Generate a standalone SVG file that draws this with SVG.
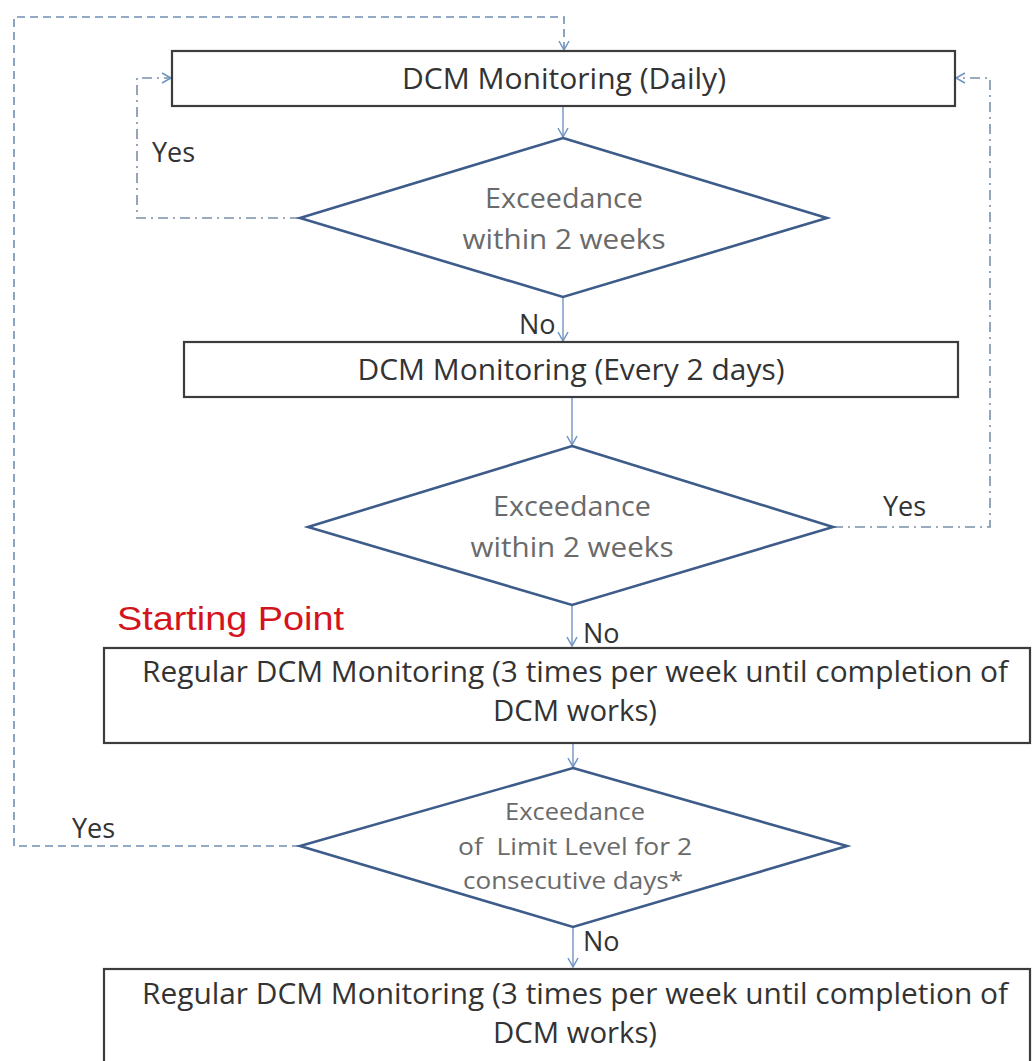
<svg xmlns="http://www.w3.org/2000/svg" width="1032" height="1061" viewBox="0 0 1032 1061">
<style>
.box{fill:#fff;stroke:#3c3c3c;stroke-width:2.2}
.dia{fill:#fff;stroke:#3d5c8a;stroke-width:2.6;stroke-linejoin:miter}
.bt{font-family:"Open Sans","Noto Sans",sans-serif;font-size:30px;fill:#333;text-anchor:middle}
.dt{font-family:"Open Sans","Noto Sans",sans-serif;font-size:28px;fill:#6a6a6a;text-anchor:middle}
.dt3{font-family:"Open Sans","Noto Sans",sans-serif;font-size:24px;fill:#6a6a6a;text-anchor:middle}
.lbl{font-family:"Open Sans","Noto Sans",sans-serif;font-size:27px;fill:#333}
.sp{font-family:"Liberation Sans",Arial,sans-serif;font-size:34px;fill:#d4141c}
.c{fill:none;stroke:#7a9cc6;stroke-width:1.5}
.dash{fill:none;stroke:#6e8fb3;stroke-width:1.6;stroke-dasharray:8 5}
.dd{fill:none;stroke:#7a90a8;stroke-width:1.6;stroke-dasharray:10 5 2 5}
</style>
<defs>
<marker id="ah" markerWidth="12" markerHeight="12" refX="10" refY="6" orient="auto" markerUnits="userSpaceOnUse">
<path d="M1,1 L10,6 L1,11" fill="none" stroke="#6f93c2" stroke-width="1.5"/>
</marker>
</defs>
<rect width="1032" height="1061" fill="#fff"/>
<g id="connectors">
<path class="c" d="M563,106 L563,137" marker-end="url(#ah)"/>
<path class="c" d="M563,297 L563,341" marker-end="url(#ah)"/>
<path class="c" d="M572,397 L572,445" marker-end="url(#ah)"/>
<path class="c" d="M572,605 L572,646" marker-end="url(#ah)"/>
<path class="c" d="M573,743 L573,767" marker-end="url(#ah)"/>
<path class="c" d="M573,927 L573,967" marker-end="url(#ah)"/>
<path class="dash" d="M300,846 L14,846 L14,17 L564,17 L564,50" marker-end="url(#ah)"/>
<path class="dd" d="M300,218 L137,218 L137,78 L171,78" marker-end="url(#ah)"/>
<path class="dd" d="M833,527 L990,527 L990,78 L956,78" marker-end="url(#ah)"/>
</g>
<g id="box1">
<rect class="box" x="172" y="51" width="783" height="55"/>
<text class="bt" x="564" y="89" textLength="324" lengthAdjust="spacingAndGlyphs">DCM Monitoring (Daily)</text>
</g>
<g id="dia1">
<polygon class="dia" points="563,138 827,218 563,297 300,218"/>
<text class="dt" x="564" y="208" textLength="158" lengthAdjust="spacingAndGlyphs">Exceedance</text>
<text class="dt" x="564" y="249" textLength="203" lengthAdjust="spacingAndGlyphs">within 2 weeks</text>
</g>
<g id="box2">
<rect class="box" x="184" y="342" width="774" height="55"/>
<text class="bt" x="571" y="380" textLength="427" lengthAdjust="spacingAndGlyphs">DCM Monitoring (Every 2 days)</text>
</g>
<g id="dia2">
<polygon class="dia" points="572,446 833,527 572,605 308,527"/>
<text class="dt" x="572" y="516" textLength="158" lengthAdjust="spacingAndGlyphs">Exceedance</text>
<text class="dt" x="572" y="557" textLength="203" lengthAdjust="spacingAndGlyphs">within 2 weeks</text>
</g>
<g id="start">
<text class="sp" x="117" y="630" textLength="227" lengthAdjust="spacingAndGlyphs">Starting Point</text>
</g>
<g id="box3">
<rect class="box" x="104" y="648" width="926" height="95"/>
<text class="bt" x="575" y="682" textLength="866" lengthAdjust="spacingAndGlyphs">Regular DCM Monitoring (3 times per week until completion of</text>
<text class="bt" x="575" y="721" textLength="164" lengthAdjust="spacingAndGlyphs">DCM works)</text>
</g>
<g id="dia3">
<polygon class="dia" points="573,768 847,846 573,927 300,846"/>
<text class="dt3" x="575" y="820" textLength="140" lengthAdjust="spacingAndGlyphs">Exceedance</text>
<text class="dt3" x="575" y="855" textLength="234" lengthAdjust="spacingAndGlyphs" xml:space="preserve">of  Limit Level for 2</text>
<text class="dt3" x="573" y="889" textLength="220" lengthAdjust="spacingAndGlyphs">consecutive days*</text>
</g>
<g id="box4">
<rect class="box" x="104" y="969" width="926" height="100"/>
<text class="bt" x="575" y="1004" textLength="866" lengthAdjust="spacingAndGlyphs">Regular DCM Monitoring (3 times per week until completion of</text>
<text class="bt" x="575" y="1043" textLength="164" lengthAdjust="spacingAndGlyphs">DCM works)</text>
</g>
<g id="labels">
<text class="lbl" x="152" y="162">Yes</text>
<text class="lbl" x="519" y="334">No</text>
<text class="lbl" x="883" y="516">Yes</text>
<text class="lbl" x="583" y="643">No</text>
<text class="lbl" x="72" y="838">Yes</text>
<text class="lbl" x="583" y="951">No</text>
</g>
</svg>
